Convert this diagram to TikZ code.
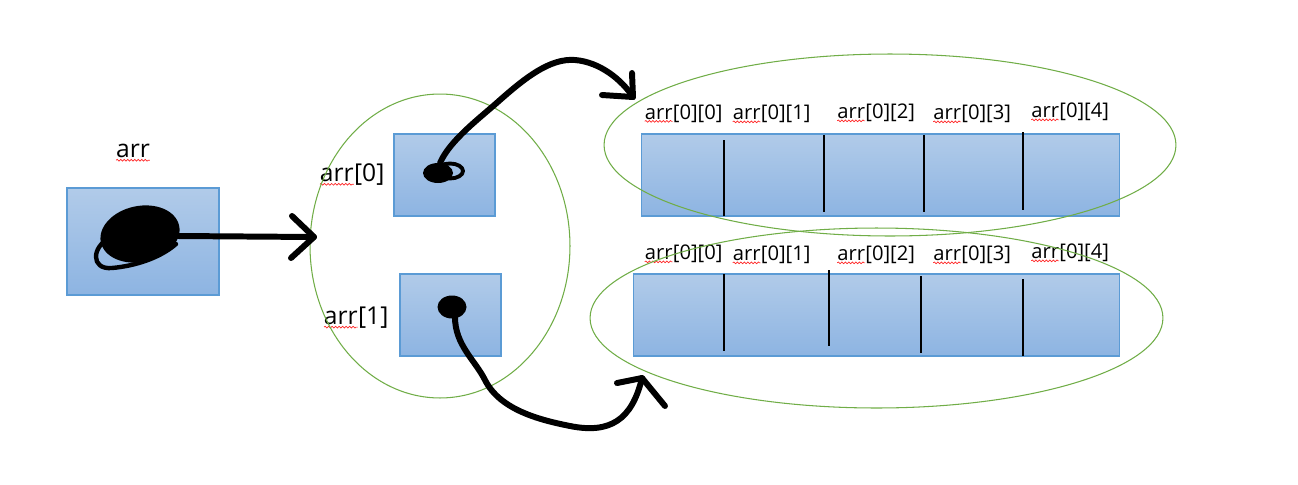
\documentclass[tikz,border=0pt]{standalone}
\usepackage{fontspec}
\setmainfont{Open Sans}
\usetikzlibrary{shapes.geometric,positioning,decorations.pathmorphing}

\definecolor{cellTop}{HTML}{B1CBE9}
\definecolor{cellBot}{HTML}{8DB4E2}
\definecolor{cellEdge}{HTML}{5B9BD5}
\definecolor{grpGreen}{HTML}{70AD47}

% red spell-check wave under a word
\newcommand{\spell}[1]{\tikz[baseline=(w.base)]{\node[inner sep=0pt,outer sep=0pt] (w) {#1};
  \draw[red!85, line width=0.4pt, decorate, decoration={snake,amplitude=0.5pt,segment length=2pt}]
  ([yshift=-1.3pt]w.base west) -- ([yshift=-1.3pt]w.base east);}}

\tikzset{
  cell/.style={draw=cellEdge, line width=0.6pt, top color=cellTop, bottom color=cellBot, inner sep=0pt},
  grp/.style={ellipse, draw=grpGreen, line width=0.6pt, inner sep=0pt},
  biglbl/.style={inner sep=0pt, font=\fontsize{14}{16}\selectfont},
  sublbl/.style={inner sep=0pt, font=\fontsize{11.5}{13}\selectfont},
  pen/.style={black, line width=3.4pt, line cap=round, line join=round},
  divider/.style={black, line width=0.8pt}
}

\begin{document}
\begin{tikzpicture}[x=0.02cm, y=-0.02cm]
    \useasboundingbox (0,0) rectangle (1298,484);

    % Pointer arr
    \node[cell, minimum width=3.04cm, minimum height=2.14cm] (arrbox) at (143,241.5) {};
    \node[biglbl] (arrlbl) at (133,153) {\spell{arr}};

    % Row pointers
    \node[cell, minimum width=2.02cm, minimum height=1.64cm] (row0) at (444.5,175) {};
    \node[cell, minimum width=2.02cm, minimum height=1.64cm] (row1) at (450.5,315) {};
    \node[biglbl] (row0lbl) at (352,175) {\spell{arr}[0]};
    \node[biglbl] (row1lbl) at (356,318) {\spell{arr}[1]};
    \node[grp, minimum width=5.2cm, minimum height=6.08cm] (rows) at (440,246) {};

    % Arrays
    \node[cell, minimum width=9.58cm, minimum height=1.64cm] (arrA) at (880.5,175) {};
    \node[cell, minimum width=9.74cm, minimum height=1.64cm] (arrB) at (876.5,315) {};
    \foreach \x/\ya/\yb in {724/140/216, 824/135/212, 924/135/212, 1023/132/210}
        \draw[divider] (\x,\ya) -- (\x,\yb);
    \foreach \x/\ya/\yb in {724/274/351, 829/270/346, 921/276/353, 1023/279/356}
        \draw[divider] (\x,\ya) -- (\x,\yb);
    \foreach \i/\x/\ya/\yb in {0/683.5/113.5/254, 1/771.5/114/255, 2/876/113/255, 3/972/114/255, 4/1070/112/253} {
        \node[sublbl] (topA\i) at (\x,\ya) {\spell{arr}[0][\i]};
        \node[sublbl] (topB\i) at (\x,\yb) {\spell{arr}[0][\i]};
    }
    \node[grp, minimum width=11.44cm, minimum height=3.64cm] (grpA) at (890,145) {};
    \node[grp, minimum width=11.46cm, minimum height=3.6cm] (grpB) at (876.5,318) {};

    % Pen strokes
    \coordinate (dotArr) at (140,234);
    \coordinate (dot0) at (438,173);
    \coordinate (dot1) at (452,307);
    \coordinate (tipRows) at (314,237);
    \coordinate (tipA) at (633,97);
    \coordinate (tipB) at (642,378);

    \fill[rotate around={12:(dotArr)}] (dotArr) ellipse [x radius=0.8cm, y radius=0.56cm];
    \draw[pen, line width=2.5pt] (110,238) .. controls (92,246) and (90,270) .. (112,268)
        .. controls (135,266) and (160,258) .. (176,244);
    \draw[pen] (dotArr) ++(38,2) -- (tipRows);
    \draw[pen] (292,216) -- (tipRows) -- (291,258);

    \fill (dot0) ellipse [x radius=0.3cm, y radius=0.2cm];
    \draw[pen, line width=2.2pt] (450,171) ellipse [x radius=0.26cm, y radius=0.15cm];
    \draw[pen] (dot0) ++(2,-10) .. controls (450,140) and (480,118) .. (500,100)
        .. controls (525,78) and (550,58) .. (575,60) .. controls (600,62) and (622,80) .. (tipA);
    \draw[pen] (602,95) -- (tipA) -- (632,73);

    \fill (dot1) ellipse [x radius=0.29cm, y radius=0.23cm];
    \draw[pen] (dot1) ++(3,10) .. controls (455,345) and (475,360) .. (485,380)
        .. controls (500,410) and (540,420) .. (570,426) .. controls (610,434) and (632,420) .. (tipB);
    \draw[pen] (617,383) -- (tipB) -- (665,406);
\end{tikzpicture}
\end{document}
